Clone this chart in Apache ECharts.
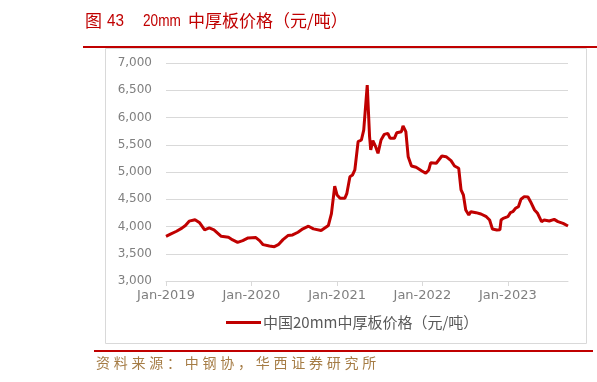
<!DOCTYPE html>
<html><head><meta charset="utf-8">
<script src="https://cdn.jsdelivr.net/npm/echarts@6/dist/echarts.min.js"></script>
<style>html,body{margin:0;padding:0;background:#fff}#c{width:597px;height:382px}</style>
</head><body><div id="c"></div>
<script>
var dates = ['2019-01-01','2019-01-20','2019-02-15','2019-03-10','2019-03-25','2019-04-01','2019-04-10','2019-05-05','2019-05-25','2019-06-15','2019-07-05','2019-07-25','2019-08-25','2019-09-25','2019-10-13','2019-11-03','2019-11-25','2019-12-18',
'2020-01-20','2020-02-05','2020-02-20','2020-03-18','2020-04-08','2020-04-25','2020-05-15','2020-06-05','2020-06-25','2020-07-18','2020-08-08','2020-09-01','2020-09-22','2020-10-25','2020-11-25','2020-12-08','2020-12-22',
'2021-01-01','2021-01-14','2021-02-03','2021-02-12','2021-02-25','2021-03-08','2021-03-18','2021-04-01','2021-04-15','2021-04-25','2021-05-10','2021-05-20','2021-05-25','2021-06-03','2021-06-15','2021-06-25','2021-07-08','2021-07-22','2021-08-06','2021-08-16','2021-09-03','2021-09-13','2021-10-03','2021-10-10','2021-10-22','2021-11-01','2021-11-15','2021-12-05','2021-12-28',
'2022-01-15','2022-01-28','2022-02-05','2022-03-01','2022-03-25','2022-04-12','2022-05-03','2022-05-18','2022-06-05','2022-06-15','2022-06-25','2022-07-05','2022-07-18','2022-07-27','2022-08-18','2022-09-08','2022-10-01','2022-10-15','2022-10-27','2022-11-15','2022-11-28','2022-12-03','2022-12-12',
'2023-01-01','2023-01-12','2023-01-22','2023-02-03','2023-02-15','2023-02-26','2023-03-12','2023-03-28','2023-04-08','2023-04-25','2023-05-08','2023-05-25','2023-06-05','2023-06-27','2023-07-18','2023-08-03','2023-08-25','2023-09-15'];
var prices = [3820,3860,3913,3970,4019,4040,4098,4124,4068,3939,3975,3939,3820,3802,3753,3710,3741,3790,
3796,3741,3667,3642,3630,3667,3759,3833,3846,3895,3957,4005,3957,3926,4019,4235,4740,
4578,4517,4517,4609,4914,4945,5037,5556,5587,5770,6596,5650,5404,5575,5464,5343,5587,5691,5709,5617,5617,5719,5740,5844,5740,5281,5110,5086,5024,
4976,5037,5169,5160,5294,5281,5208,5110,5068,4670,4578,4303,4211,4272,4254,4230,4180,4119,3954,3936,3940,4119,4150,
4180,4254,4272,4334,4364,4500,4548,4540,4456,4303,4242,4089,4119,4101,4131,4090,4058,4009];
var tickYears = [2019,2020,2021,2022,2023];
var seriesName = '中国20mm中厚板价格（元/吨）';
var titleParts = [['图',85,'"Noto Sans CJK SC"',1],['43',107,'"Liberation Sans"',0.9],['20mm',143,'"Liberation Sans"',0.8],['中厚板价格（元/吨）',188,'"Noto Sans CJK SC"',1]];
var sourceText = '资料来源：中钢协，华西证券研究所';

function ms(d){var p=d.split('-');return Date.UTC(+p[0],+p[1]-1,+p[2]);}
var data = dates.map(function(d,i){return [ms(d),prices[i]];});
var tickVals = tickYears.map(function(y){return Date.UTC(y,0,1);});

var graphics = [
  {type:'rect',shape:{x:105.5,y:48.5,width:481,height:295},style:{fill:'none',stroke:'#d9d9d9',lineWidth:1},z:0},
  {type:'rect',shape:{x:83,y:46,width:514,height:2},style:{fill:'#c00000'},z:5},
  {type:'rect',shape:{x:94,y:350,width:499,height:2},style:{fill:'#c00000'},z:5}
];
titleParts.forEach(function(p){
  graphics.push({type:'text',x:p[1],y:21,scaleX:p[3],style:{text:p[0],fill:'#c00000',font:'17px '+p[2],textVerticalAlign:'middle'}});
});
sourceText.split('').forEach(function(ch,i){
  graphics.push({type:'text',x:96+i*17.75,y:363,style:{text:ch,fill:'#a57c45',font:'14px "Noto Sans CJK SC"',textVerticalAlign:'middle'}});
});

var chart = echarts.init(document.getElementById('c'),null,{renderer:'canvas'});
chart.setOption({
  animation:false,
  grid:{left:166,right:29,top:63,bottom:101},
  legend:{data:[seriesName],left:226,top:315,padding:0,itemWidth:35,itemHeight:3,itemGap:4,icon:'rect',
    textStyle:{color:'#595959',fontSize:15,fontFamily:'"Noto Sans CJK SC"',padding:[0,0,0,-3]}},
  xAxis:{type:'value',min:ms(dates[0]),max:ms(dates[dates.length-1]),
    axisLine:{show:true,lineStyle:{color:'#d9d9d9'}},
    axisTick:{show:true,customValues:tickVals,length:5,lineStyle:{color:'#d9d9d9'}},
    axisLabel:{customValues:tickVals,color:'#7f7f7f',fontSize:13,fontFamily:'DejaVu Sans',margin:8,
      formatter:function(v){return 'Jan-'+new Date(v).getUTCFullYear();}},
    splitLine:{show:false}},
  yAxis:{type:'value',min:3000,max:7000,interval:500,
    axisLine:{show:false},axisTick:{show:false},
    axisLabel:{color:'#7f7f7f',fontSize:12,fontFamily:'DejaVu Sans',margin:14,
      formatter:function(v){return v.toLocaleString('en-US');}},
    splitLine:{lineStyle:{color:'#d9d9d9'}}},
  series:[{name:seriesName,type:'line',data:data,showSymbol:false,symbol:'none',
    lineStyle:{color:'#c00000',width:3},itemStyle:{color:'#c00000'}}],
  graphic:graphics
});
</script></body></html>
